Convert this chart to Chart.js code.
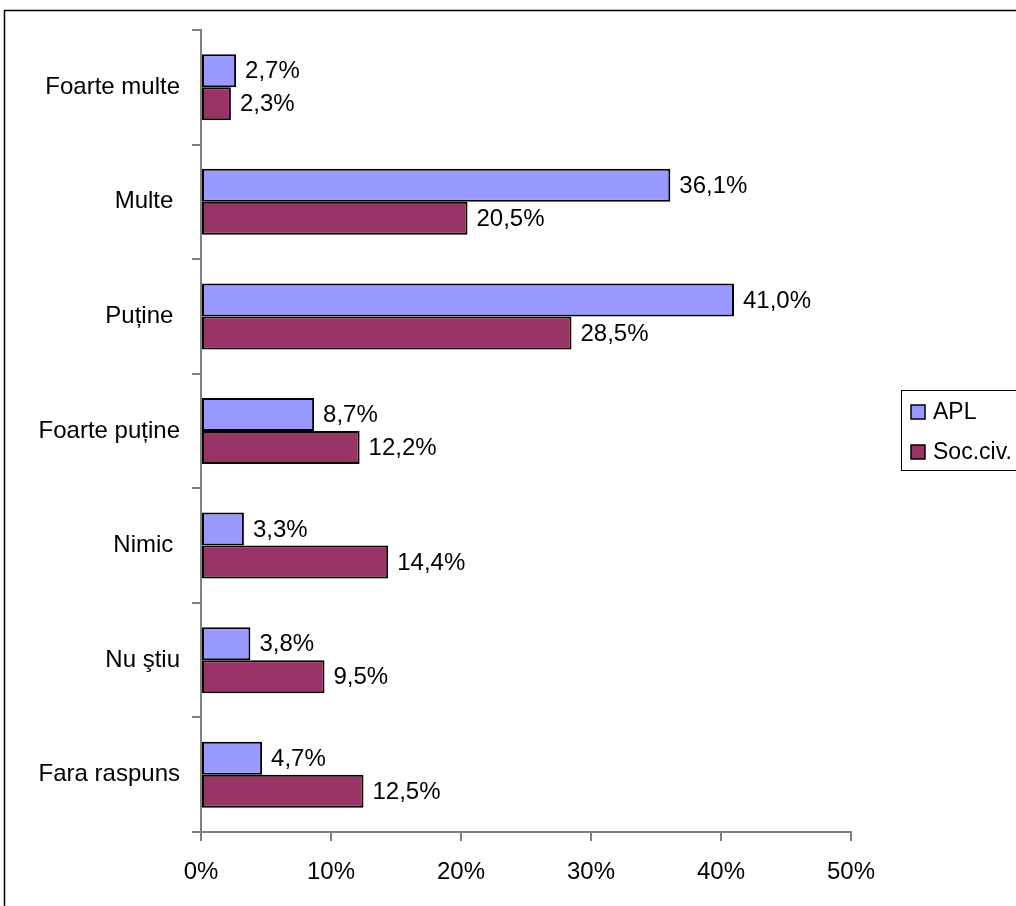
<!DOCTYPE html>
<html>
<head>
<meta charset="utf-8">
<script src="https://cdn.jsdelivr.net/npm/chart.js@4/dist/chart.umd.min.js"></script>
<style>
  html, body { margin: 0; padding: 0; background: #fff; }
  canvas { display: block; }
</style>
</head>
<body>
<canvas id="chart" width="1016" height="906"></canvas>
<script>
// Data
const categories = ['Foarte multe', 'Multe ', 'Puține ', 'Foarte puține', 'Nimic ', 'Nu ştiu', 'Fara raspuns'];
const aplValues = [2.7, 36.1, 41.0, 8.7, 3.3, 3.8, 4.7];
const socCivValues = [2.3, 20.5, 28.5, 12.2, 14.4, 9.5, 12.5];
const seriesNames = ['APL', 'Soc.civ.'];
const xTicks = [0, 10, 20, 30, 40, 50];

const FONT = 'Liberation Sans, Arial, sans-serif';
const AXIS_GRAY = '#808080';

// Value labels next to the bars ("36,1%")
const valueLabels = {
  id: 'valueLabels',
  afterDatasetsDraw(chart) {
    const ctx = chart.ctx;
    ctx.save();
    ctx.font = '24px ' + FONT;
    ctx.fillStyle = '#000';
    ctx.textAlign = 'left';
    ctx.textBaseline = 'middle';
    chart.data.datasets.forEach((ds, di) => {
      chart.getDatasetMeta(di).data.forEach((bar, i) => {
        const txt = ds.data[i].toFixed(1).replace('.', ',') + '%';
        ctx.fillText(txt, bar.x + 9, bar.y + 1);
      });
    });
    ctx.restore();
  }
};

// Boxed legend on the right and the outer frame
const frameAndLegend = {
  id: 'frameAndLegend',
  afterDraw(chart) {
    const ctx = chart.ctx;
    ctx.save();
    ctx.strokeStyle = '#000';
    ctx.lineWidth = 1.5;
    ctx.strokeRect(4.5, 10.5, 1100, 1000);

    ctx.lineWidth = 1;
    ctx.strokeRect(901.5, 390.5, 200, 80);
    ctx.font = '23px ' + FONT;
    ctx.textAlign = 'left';
    ctx.textBaseline = 'middle';
    chart.data.datasets.forEach((ds, i) => {
      const y = 405 + i * 40;
      ctx.fillStyle = ds.backgroundColor;
      ctx.fillRect(911, y, 14, 14);
      ctx.lineWidth = 1.5;
      ctx.strokeStyle = '#000';
      ctx.strokeRect(911, y, 14, 14);
      ctx.fillStyle = '#000';
      ctx.fillText(ds.label, 933, y + 8);
    });
    ctx.restore();
  }
};

new Chart(document.getElementById('chart'), {
  type: 'bar',
  data: {
    labels: categories,
    datasets: [{
      label: seriesNames[0],
      data: aplValues,
      backgroundColor: '#9999FF',
      borderColor: '#000',
      borderWidth: 2,
      borderSkipped: false
    }, {
      label: seriesNames[1],
      data: socCivValues,
      backgroundColor: '#993366',
      borderColor: '#000',
      borderWidth: 2,
      borderSkipped: false
    }]
  },
  options: {
    indexAxis: 'y',
    responsive: false,
    animation: false,
    datasets: {
      bar: { categoryPercentage: 0.576, barPercentage: 1 }
    },
    layout: { padding: { left: 0, top: 30, right: 165, bottom: 0 } },
    plugins: {
      legend: { display: false },
      tooltip: { enabled: false }
    },
    scales: {
      x: {
        min: 0,
        max: 50,
        afterBuildTicks: s => { s.ticks = xTicks.map(v => ({ value: v })); },
        afterFit: s => { s.height = 74; },
        grid: { drawOnChartArea: false, drawTicks: true, tickLength: 9, color: AXIS_GRAY, lineWidth: 2 },
        border: { display: true, color: AXIS_GRAY, width: 2 },
        ticks: {
          padding: 17,
          color: '#000',
          font: { family: FONT, size: 24 },
          callback: v => v + '%'
        }
      },
      y: {
        afterFit: s => { s.width = 201; },
        grid: { drawOnChartArea: false, drawTicks: true, tickLength: 9, offset: true, color: AXIS_GRAY, lineWidth: 2 },
        border: { display: true, color: AXIS_GRAY, width: 2 },
        ticks: {
          padding: 12,
          color: '#000',
          font: { family: FONT, size: 24 }
        }
      }
    }
  },
  plugins: [valueLabels, frameAndLegend]
});
</script>
</body>
</html>
